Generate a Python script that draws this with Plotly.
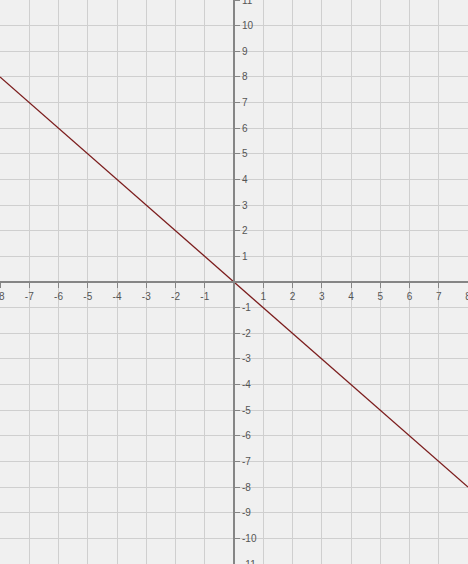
import plotly.graph_objects as go

# line y = -x
line_x = [-8, 8]
line_y = [8, -8]

x_ticks = [-8, -7, -6, -5, -4, -3, -2, -1, 1, 2, 3, 4, 5, 6, 7, 8]
y_ticks = [-11, -10, -9, -8, -7, -6, -5, -4, -3, -2, -1,
           1, 2, 3, 4, 5, 6, 7, 8, 9, 10, 11]

fig = go.Figure()
fig.add_trace(go.Scatter(
    x=line_x, y=line_y, mode="lines",
    line=dict(color="#7b1c1c", width=1.3),
    hoverinfo="skip", showlegend=False,
))

tick_font = dict(family="Liberation Sans, Arial, sans-serif", size=10, color="#555555")

fig.update_xaxes(
    range=[-8, 8], tickvals=x_ticks, ticktext=[str(v) for v in x_ticks],
    anchor="free", position=0.5, side="bottom",
    showline=True, linecolor="#858585", linewidth=2,
    ticks="outside", ticklen=5, tickcolor="#858585", tickwidth=1,
    showgrid=True, gridcolor="#cfcfcf", gridwidth=1,
    zeroline=False, tickfont=tick_font, fixedrange=True,
    ticklabeloverflow="allow", automargin=False,
)
fig.update_yaxes(
    range=[-11, 11], tickvals=y_ticks, ticktext=[str(v) for v in y_ticks],
    anchor="free", position=0.5, side="right",
    showline=True, linecolor="#858585", linewidth=2,
    ticks="outside", ticklen=5, tickcolor="#858585", tickwidth=1,
    showgrid=True, gridcolor="#cfcfcf", gridwidth=1,
    zeroline=False, tickfont=tick_font, fixedrange=True,
    ticklabeloverflow="allow", automargin=False,
)
fig.update_layout(
    width=468, height=564,
    margin=dict(l=0, r=0, t=0, b=0),
    paper_bgcolor="#f0f0f0", plot_bgcolor="#f0f0f0",
    showlegend=False,
)
fig.write_html(
    "out.html",
    config={"displayModeBar": False},
    post_script="document.body.style.margin='0';document.body.style.background='#f0f0f0';",
)
